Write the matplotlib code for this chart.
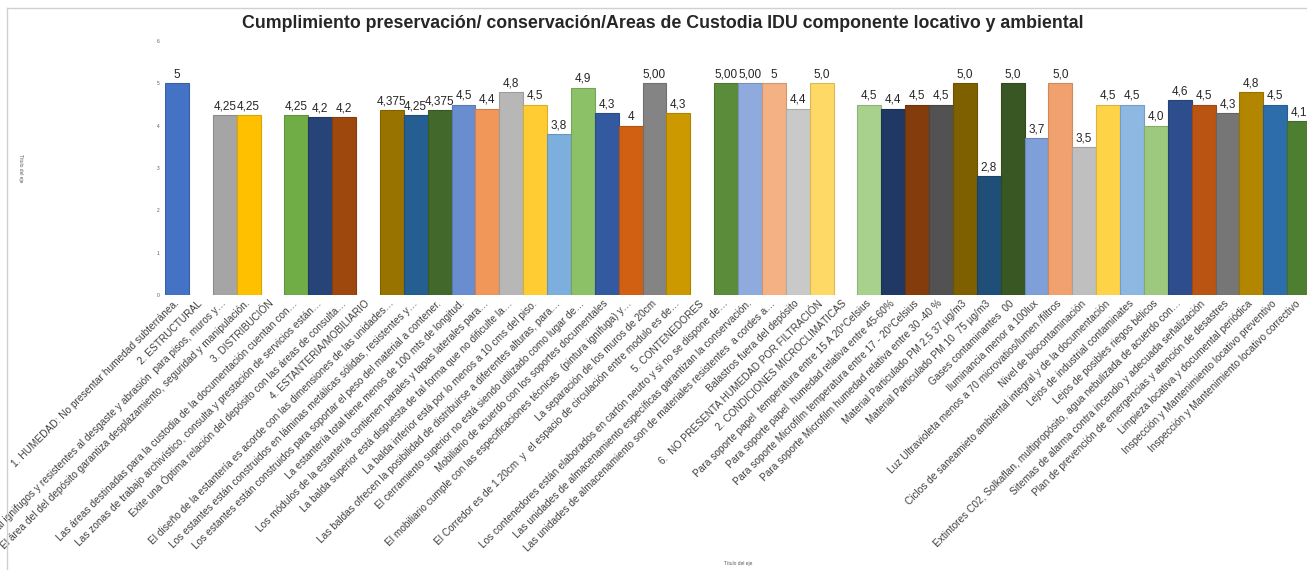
import matplotlib
matplotlib.use("Agg")
import matplotlib.pyplot as plt
from matplotlib.colors import to_rgb
from matplotlib.lines import Line2D

plt.rcParams["font.family"] = ["Liberation Sans", "DejaVu Sans"]

# Categories of the evaluation (section headers have no score)
categories = [
    "1. HUMEDAD: No presentar humedad subterránea.",
    "2. ESTRUCTURAL",
    "Utiliza material ignifugos y resistentes al desgaste y abrasión  para pisos, muros y…",
    "El área del del depósito garantiza desplazamiento, seguridad y manipulación.",
    "3. DISTRIBUCIÓN",
    "Las áreas destinadas para la custodia de la documentación cuentan con…",
    "Las zonas de trabajo archivístico, consulta y prestación de servicios están…",
    "Exite una Óptima relación del depósito con las áreas de consulta…",
    "4. ESTANTERIA/MOBILIARIO",
    "El diseño de la estantería es acorde con las dimensiones de las unidades…",
    "Los estantes están construidos en láminas metálicas sólidas, resistentes y…",
    "Los estantes están construidos para soportar el peso del material a contener.",
    "La estantería total tiene menos de 100 mts de longitud.",
    "Los módulos de la estantería contienen parales y tapas laterales para…",
    "La balda superior está dispuesta de tal forma que no dificulte la…",
    "La balda inferior está por lo menos a 10 cms del piso.",
    "Las baldas ofrecen la posibilidad de distribuirse a diferentes alturas, para…",
    "El cerramiento superior no está siendo utilizado como lugar de…",
    "Mobiliario de acuerdo con los soportes documentales",
    "El mobiliario cumple con las especificaciones técnicas  (pintura ignífuga) y…",
    "La separación de los muros de 20cm",
    "El Corredor es de 1.20cm  y  el espacio de circulación entre modulo es de…",
    "5. CONTENEDORES",
    "Los contenedores están elaborados en cartón neutro y si no se dispone de…",
    "Las unidades de almacenamiento específicas garantizan la conservación.",
    "Las unidades de almacenamiento son de materiales resistentes  a cordes a…",
    "Balastros fuera del depósito",
    "6.  NO PRESENTA HUMEDAD POR FILTRACIÓN",
    "2. CONDICIONES MICROCLIMÁTICAS",
    "Para soporte papel  temperatura entre 15 A 20°Celsius",
    "Para soporte papel  humedad relativa entre 45-60%",
    "Para soporte Microfilm temperatura entre 17 - 20°Celsius",
    "Para soporte Microfilm humedad relativa entre 30 -40 %",
    "Material Particulado PM 2,5 37 µg/m3",
    "Material Particulado PM 10  75 µg/m3",
    "Gases contaminantes  00",
    "Iluminancia menor a 100lux",
    "Luz Ultravioleta menos a 70 microvatios/lumen /filtros",
    "Nivel de biocontaminación",
    "Ciclos de saneamieto ambiental integral y de la documentación",
    "Lejos de industrial contaminates",
    "Lejos de posibles riegos bélicos",
    "Extintores C02, Solkaflan, multipropósito, agua nebulizada de acuerdo con…",
    "Sitemas de alarma contra incendio y adecuada señalización",
    "Plan de prevención de emergencias y atención de desastres",
    "Limpieza locativa y documental periódica",
    "Inspección y Mantenimiento locativo preventivo",
    "Inspección y Mantenimiento locativo correctivo",
]

# Scores (None = header row without a bar)
scores = [
    5, None, 4.25, 4.25, None, 4.25, 4.2, 4.2, None,
    4.375, 4.25, 4.375, 4.5, 4.4, 4.8, 4.5, 3.8, 4.9, 4.3, 4.0, 5.0, 4.3,
    None, 5.0, 5.0, 5.0, 4.4, 5.0, None,
    4.5, 4.4, 4.5, 4.5, 5.0, 2.8, 5.0, 3.7, 5.0, 3.5, 4.5, 4.5, 4.0,
    4.6, 4.5, 4.3, 4.8, 4.5, 4.1,
]

# Decimal places shown in each data label
decimals = [
    0, 0, 2, 2, 0, 2, 1, 1, 0,
    3, 2, 3, 1, 1, 1, 1, 1, 1, 1, 0, 2, 1,
    0, 2, 2, 0, 1, 1, 0,
    1, 1, 1, 1, 1, 1, 1, 1, 1, 1, 1, 1, 1,
    1, 1, 1, 1, 1, 1,
]

bar_colors = [
    "#4472C4", None, "#A5A5A5", "#FFC000", None, "#70AD47", "#264478", "#9E480E", None,
    "#997300", "#255E91", "#43682B", "#698ED0", "#F1975A", "#B7B7B7", "#FFCD33",
    "#7CAFDD", "#8CC168", "#335AA1", "#D26012", "#848484", "#CC9A00",
    None, "#5B8C3A", "#8FAADC", "#F4B183", "#C9C9C9", "#FFD966", None,
    "#A9D18E", "#203864", "#843C0C", "#525252", "#7F6000", "#1F4E79", "#385723",
    "#7F9FD8", "#F0A16E", "#BFBFBF", "#FFD347", "#8DB8E2", "#9DC97F",
    "#2E4D8C", "#BA5413", "#767676", "#B38600", "#2E6DAB", "#4E7F31",
]

title = "Cumplimiento preservación/ conservación/Areas de Custodia IDU componente locativo y ambiental"
axis_title = "Título del eje"

fig = plt.figure(figsize=(13.07, 5.70), dpi=100)
ax = fig.add_axes([165 / 1307, 1 - 295 / 570, 1146 / 1307, 254 / 570])

for i, (v, c, d) in enumerate(zip(scores, bar_colors, decimals)):
    if v is None:
        continue
    edge = tuple(x * 0.85 for x in to_rgb(c))
    ax.bar(i, v, width=1.0, color=c, edgecolor=edge, linewidth=0.8)
    ax.annotate(f"{v:.{d}f}".replace(".", ","), (i, v), xytext=(0, 2),
                textcoords="offset points", ha="center", va="bottom",
                fontsize=8.5, color="#262626")

ax.set_xlim(-0.5, len(categories) - 0.5)
ax.set_ylim(0, 6)
ax.set_yticks(range(0, 7))
ax.set_yticklabels([str(t) for t in range(0, 7)], fontsize=3.5, color="#595959")
ax.set_xticks(range(len(categories)))
ax.set_xticklabels(categories, rotation=45, ha="right", va="center",
                   rotation_mode="anchor", fontsize=7.3, color="#404040")
ax.tick_params(axis="both", length=0)
ax.tick_params(axis="x", pad=5)
ax.tick_params(axis="y", pad=4)
for s in ax.spines.values():
    s.set_visible(False)

fig.text(0.507, 1 - 23 / 570, title, ha="center", va="center",
         fontsize=12.8, fontweight="bold", color="#262626")
fig.text(738 / 1307, 1 - 563 / 570, axis_title, ha="center", va="center",
         fontsize=3.5, color="#595959")
fig.text(20 / 1307, 1 - 168 / 570, axis_title, ha="center", va="center",
         rotation=270, fontsize=3.5, color="#595959")

# Light frame along the top and left edges
fig.add_artist(Line2D([7 / 1307, 1.0], [1 - 8 / 570, 1 - 8 / 570],
                      transform=fig.transFigure, color="#D0D0D0", linewidth=1))
fig.add_artist(Line2D([7 / 1307, 7 / 1307], [0, 1 - 8 / 570],
                      transform=fig.transFigure, color="#D0D0D0", linewidth=1))

fig.savefig("out.png", dpi=100, facecolor="white")
